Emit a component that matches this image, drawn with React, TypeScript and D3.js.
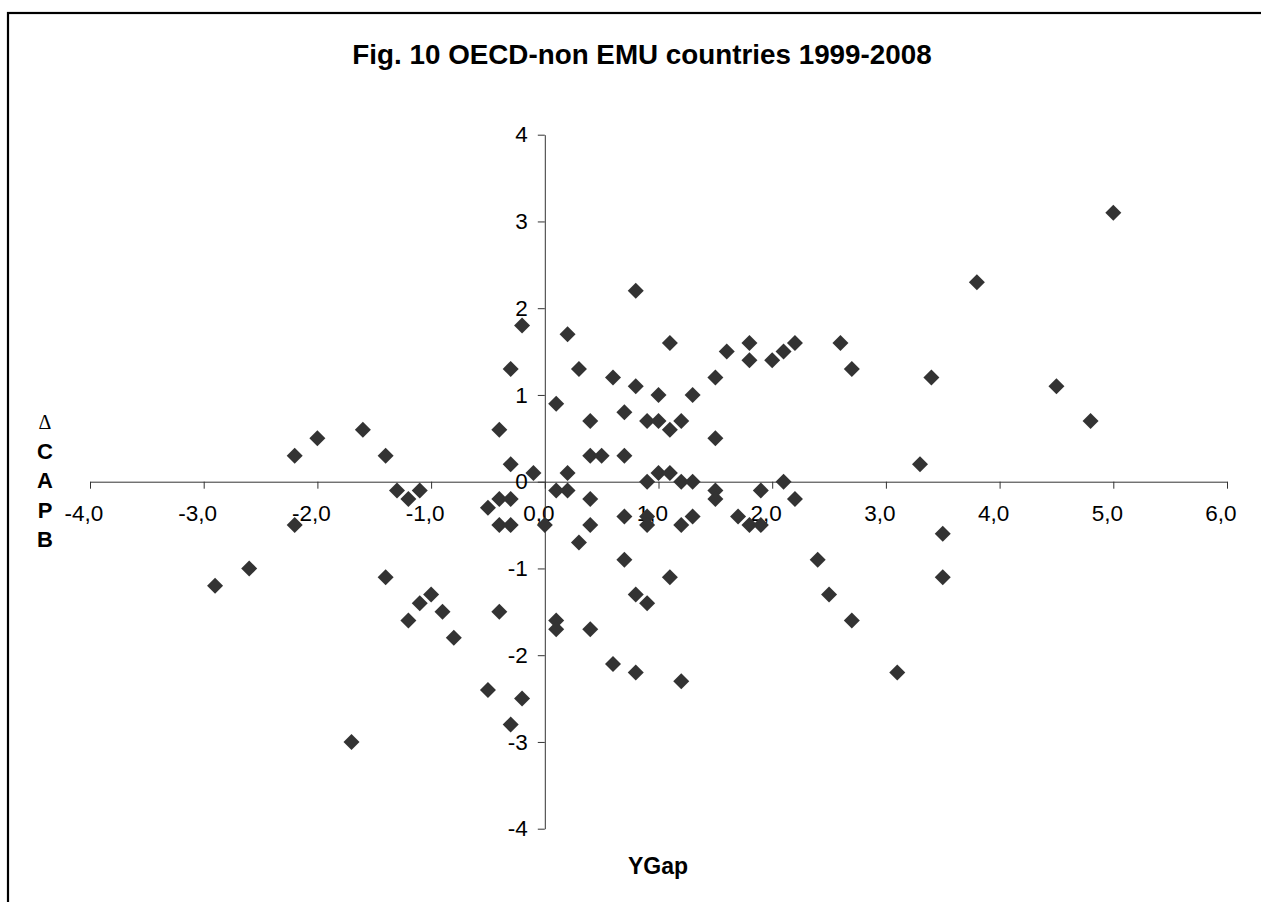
import * as d3 from 'd3';
import * as React from 'react';
import { useEffect, useRef } from 'react';

// YGap (x) and change in CAPB (y)
const yGap = [
  -2.9, -2.6, -2.2, -2.2, -2.0, -1.6, -1.7, -1.4, -1.4, -1.3, -1.2, -1.1, -1.2, -1.1, -1.0, -0.9, -0.8,
  -0.5, -0.5, -0.4, -0.4, -0.4, -0.4, -0.3, -0.3, -0.3, -0.3, -0.3, -0.2, -0.2, -0.1, 0.0,
  0.1, 0.1, 0.1, 0.1, 0.2, 0.2, 0.2, 0.3, 0.3, 0.4, 0.4, 0.4, 0.4, 0.4, 0.5, 0.6, 0.6,
  0.7, 0.7, 0.7, 0.7, 0.8, 0.8, 0.8, 0.8, 0.9, 0.9, 0.9, 0.9, 0.9, 1.0, 1.0, 1.0,
  1.1, 1.1, 1.1, 1.1, 1.2, 1.2, 1.2, 1.2, 1.3, 1.3, 1.3, 1.5, 1.5, 1.5, 1.5, 1.6, 1.7,
  1.8, 1.8, 1.8, 1.9, 1.9, 2.0, 2.1, 2.1, 2.2, 2.2,
  2.4, 2.5, 2.6, 2.7, 2.7, 3.1, 3.3, 3.4, 3.5, 3.5, 3.8, 4.5, 4.8, 5.0
];
const dCapb = [
  -1.2, -1.0, 0.3, -0.5, 0.5, 0.6, -3.0, 0.3, -1.1, -0.1, -0.2, -0.1, -1.6, -1.4, -1.3, -1.5, -1.8,
  -0.3, -2.4, 0.6, -0.2, -0.5, -1.5, 1.3, 0.2, -0.2, -0.5, -2.8, 1.8, -2.5, 0.1, -0.5,
  0.9, -0.1, -1.6, -1.7, 1.7, 0.1, -0.1, 1.3, -0.7, 0.7, 0.3, -0.2, -0.5, -1.7, 0.3, 1.2, -2.1,
  0.8, 0.3, -0.4, -0.9, 2.2, 1.1, -1.3, -2.2, 0.7, 0.0, -0.4, -0.5, -1.4, 1.0, 0.7, 0.1,
  1.6, 0.6, 0.1, -1.1, 0.7, 0.0, -0.5, -2.3, 1.0, 0.0, -0.4, 1.2, 0.5, -0.1, -0.2, 1.5, -0.4,
  1.6, 1.4, -0.5, -0.1, -0.5, 1.4, 1.5, 0.0, 1.6, -0.2,
  -0.9, -1.3, 1.6, 1.3, -1.6, -2.2, 0.2, 1.2, -0.6, -1.1, 2.3, 1.1, 0.7, 3.1
];

const xTicks = [-4, -3, -2, -1, 0, 1, 2, 3, 4, 5, 6];
const yTicks = [-4, -3, -2, -1, 0, 1, 2, 3, 4];
const yTitle = ['C', 'A', 'P', 'B'];

const font = '"Liberation Sans", Arial, sans-serif';

export default function App() {
  const ref = useRef<SVGSVGElement>(null);

  useEffect(() => {
    const svg = d3.select(ref.current);
    svg.selectAll('*').remove();

    const x = d3.scaleLinear().domain([-4, 6]).range([90, 1227]);
    const y = d3.scaleLinear().domain([-4, 4]).range([828.7, 134.7]);

    // outer chart border, cut off at the right and bottom
    svg.append('rect')
      .attr('x', 8).attr('y', 13)
      .attr('width', 1400).attr('height', 1000)
      .attr('fill', 'none').attr('stroke', '#000').attr('stroke-width', 2.2);

    svg.append('text')
      .attr('x', 642).attr('y', 64)
      .attr('text-anchor', 'middle')
      .style('font', `bold 27.8px ${font}`)
      .text('Fig. 10 OECD-non EMU countries 1999-2008');

    const xAxis = svg.append('g')
      .attr('transform', `translate(0,${y(0)})`)
      .call(d3.axisBottom(x).tickValues(xTicks).tickSize(7).tickSizeOuter(0)
        .tickFormat((d: any) => d.toFixed(1).replace('.', ',').replace('-0,0', '0,0')));
    xAxis.selectAll('text')
      .attr('x', -6.5).attr('y', 39).attr('dy', null)
      .attr('fill', '#000')
      .style('font', `22.5px ${font}`);

    const yAxis = svg.append('g')
      .attr('transform', `translate(${x(0)},0)`)
      .call(d3.axisLeft(y).tickValues(yTicks).tickSize(7).tickSizeOuter(0)
        .tickFormat((d: any) => String(d)));
    yAxis.selectAll('text')
      .attr('x', -17)
      .attr('fill', '#000')
      .style('font', `22.5px ${font}`);

    svg.selectAll('.domain, .tick line').attr('stroke', '#333');

    // axis titles
    svg.append('text')
      .attr('x', 658).attr('y', 874)
      .attr('text-anchor', 'middle')
      .style('font', `bold 23px ${font}`)
      .text('YGap');

    svg.append('text')
      .attr('x', 45).attr('y', 429)
      .attr('text-anchor', 'middle')
      .style('font', '20px "Liberation Serif", serif')
      .text('\u0394');

    svg.selectAll('.ytitle')
      .data(yTitle)
      .enter()
      .append('text')
      .attr('class', 'ytitle')
      .attr('x', 45)
      .attr('y', (d, i) => 459 + i * 29.3)
      .attr('text-anchor', 'middle')
      .style('font', `bold 22px ${font}`)
      .text(d => d);

    const diamond = 'M0,-8L8,0L0,8L-8,0Z';
    svg.selectAll('.pt')
      .data(yGap)
      .enter()
      .append('path')
      .attr('class', 'pt')
      .attr('d', diamond)
      .attr('fill', '#333')
      .attr('transform', (d, i) => `translate(${x(d)},${y(dCapb[i])})`);
  }, []);

  return (
    <svg ref={ref} width={1261} height={902}
      style={{ position: 'absolute', left: 0, top: 0, background: '#fff' }} />
  );
}
